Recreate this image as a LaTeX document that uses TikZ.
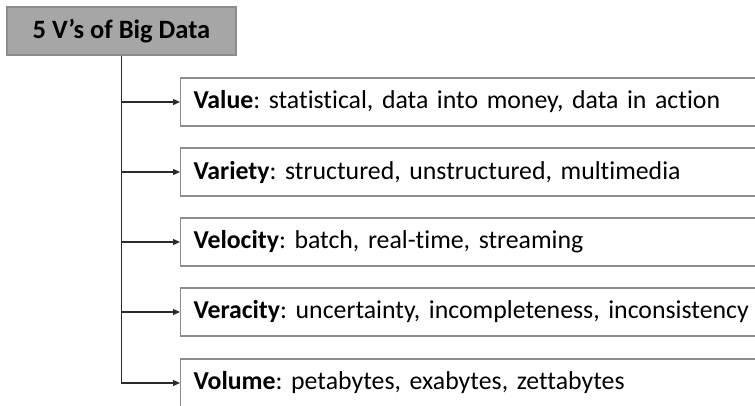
\documentclass[tikz,border=0pt]{standalone}
\usepackage{fontspec}
\setmainfont{Carlito}[Ligatures=NoCommon]
\usetikzlibrary{arrows.meta}
\definecolor{titlefill}{HTML}{A6A6A6}
\definecolor{boxline}{HTML}{8C8C8C}
\definecolor{linkline}{HTML}{2B2B2B}
\tikzset{
  headbox/.style={draw=boxline, fill=titlefill, line width=1.2pt,
    minimum width=229pt, minimum height=48pt, inner sep=0pt,
    font=\fontsize{26.5}{30}\selectfont\bfseries\frenchspacing},
  vbox/.style={draw=boxline, fill=white, line width=1.2pt, anchor=west,
    minimum width=600pt, minimum height=48pt, inner xsep=13pt, inner ysep=0pt,
    text width=574pt, align=left, font=\fontsize{25.8}{30}\selectfont\frenchspacing},
  link/.style={draw=linkline, line width=1.3pt},
  linkarrow/.style={link, -{Triangle[length=7pt,width=6pt]}}
}
\begin{document}
\begin{tikzpicture}[x=1pt, y=-1pt]
  \useasboundingbox (0,0) rectangle (755,405);
  \clip (0,0) rectangle (755,405);
  \fill[white] (0,0) rectangle (755,405);

  \node[headbox] (title) at (121.5,31) {5 V’s of Big Data};

  \node[vbox] (v1) at (180,102) {\textbf{Value}: statistical, data into money, data in action};
  \node[vbox] (v2) at (180,172) {\textbf{Variety}: structured, unstructured, multimedia};
  \node[vbox] (v3) at (180,242) {\textbf{Velocity}: batch, real-time, streaming};
  \node[vbox] (v4) at (180,312) {\textbf{Veracity}: uncertainty, incompleteness, inconsistency};
  \node[vbox] (v5) at (180,383) {\textbf{Volume}: petabytes, exabytes, zettabytes};

  % trunk from the heading down to the last branch
  \draw[linkarrow] (title.south) |- (v5.west);
  \foreach \n in {v1,v2,v3,v4}
    \draw[linkarrow] (title.south |- \n.west) -- (\n.west);
\end{tikzpicture}
\end{document}
